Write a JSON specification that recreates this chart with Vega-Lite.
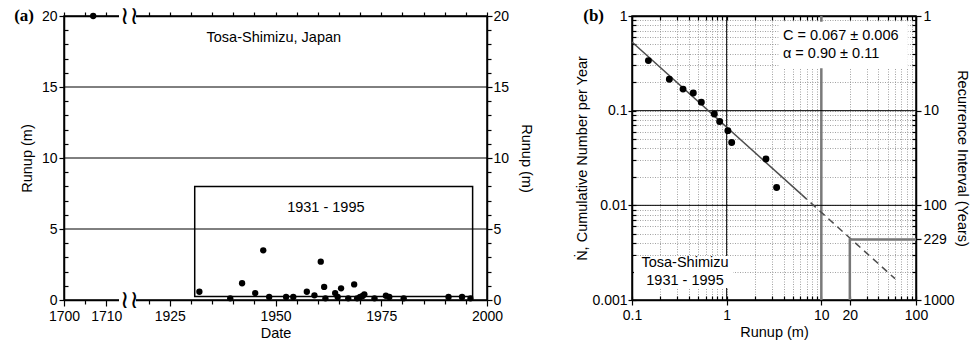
{
  "$schema": "https://vega.github.io/schema/vega-lite/v6.json",
  "padding": {"left": 13, "top": 3, "right": 0, "bottom": 0},
  "spacing": 145,
  "bounds": "flush",
  "config": {
    "font": "Liberation Sans",
    "view": {"stroke": "black", "strokeWidth": 1.5},
    "axis": {
      "labelFont": "Liberation Sans", "titleFont": "Liberation Sans",
      "labelFontSize": 14, "titleFontSize": 14.5, "titleFontWeight": "normal",
      "labelColor": "black", "titleColor": "black", "domainColor": "black", "tickColor": "black",
      "domainWidth": 1.5, "tickWidth": 1.2, "grid": false, "labelOverlap": false, "labelFlush": false
    }
  },
  "datasets": {
    "runupA": [
      {"yr": 1706.9, "v": 20}, {"yr": 1932.0, "v": 0.58}, {"yr": 1939.3, "v": 0.12}, {"yr": 1942.1, "v": 1.18},
      {"yr": 1945.2, "v": 0.49}, {"yr": 1947.1, "v": 3.5}, {"yr": 1948.5, "v": 0.21}, {"yr": 1952.5, "v": 0.21},
      {"yr": 1954.2, "v": 0.21}, {"yr": 1957.4, "v": 0.58}, {"yr": 1959.2, "v": 0.33}, {"yr": 1960.7, "v": 2.7},
      {"yr": 1961.5, "v": 0.92}, {"yr": 1961.8, "v": 0.12}, {"yr": 1964.1, "v": 0.49}, {"yr": 1964.7, "v": 0.21},
      {"yr": 1965.5, "v": 0.82}, {"yr": 1967.2, "v": 0.12}, {"yr": 1968.6, "v": 1.1}, {"yr": 1969.3, "v": 0.12},
      {"yr": 1970.0, "v": 0.21}, {"yr": 1970.6, "v": 0.28}, {"yr": 1971.0, "v": 0.4}, {"yr": 1973.4, "v": 0.12},
      {"yr": 1976.1, "v": 0.3}, {"yr": 1976.9, "v": 0.21}, {"yr": 1980.3, "v": 0.12}, {"yr": 1990.9, "v": 0.21},
      {"yr": 1994.1, "v": 0.21}, {"yr": 1996.1, "v": 0.12}
    ],
    "gridA": [{"g": 5}, {"g": 10}, {"g": 15}],
    "boxA": [{"x1": 1930.9, "x2": 1996.6, "y1": 0.25, "y2": 8}],
    "breakA": [
      {"x1": 1713.0, "x2": 1917.0, "xb": 1715, "lo": -0.45, "hi": 0.45, "yc": 0},
      {"x1": 1713.0, "x2": 1917.0, "xb": 1715, "lo": 19.55, "hi": 20.45, "yc": 20}
    ],
    "notesA": [{"yr": 1949.6, "v": 18.45, "t": "Tosa-Shimizu, Japan"}, {"yr": 1961.9, "v": 6.48, "t": "1931 - 1995"}],
    "panelA": [{"yr": 1700, "v": 20, "t": "(a)"}],
    "pointsB": [
      {"r": 0.149, "n": 0.338}, {"r": 0.248, "n": 0.215}, {"r": 0.346, "n": 0.169}, {"r": 0.444, "n": 0.154},
      {"r": 0.54, "n": 0.123}, {"r": 0.74, "n": 0.0923}, {"r": 0.843, "n": 0.0769}, {"r": 1.03, "n": 0.0615},
      {"r": 1.13, "n": 0.0462}, {"r": 2.6, "n": 0.0308}, {"r": 3.37, "n": 0.0154}
    ],
    "fitSolid": [{"r": 0.1, "n": 0.532}, {"r": 6.2, "n": 0.01297}],
    "fitDash": [{"r": 6.2, "n": 0.01297}, {"r": 60, "n": 0.00168}],
    "recur": [{"r": 20, "n": 0.001, "o": 1}, {"r": 20, "n": 0.0043668, "o": 2}, {"r": 100, "n": 0.0043668, "o": 3}],
    "vBlack": [{"r": 1}],
    "vGray": [{"r": 10}],
    "hBlack": [{"n": 0.1}, {"n": 0.01}],
    "boxesB": [{"r1": 3.55, "r2": 82, "n1": 0.28, "n2": 0.87}, {"r1": 0.105, "r2": 1.17, "n1": 0.00134, "n2": 0.00292}],
    "fitText": [{"r": 3.93, "n": 0.615, "t": "C = 0.067  ± 0.006"}, {"r": 3.93, "n": 0.397, "t": "α = 0.90  ± 0.11"}],
    "siteText": [{"r": 0.363, "n": 0.00247, "t": "Tosa-Shimizu"}, {"r": 0.363, "n": 0.00159, "t": "1931 - 1995"}],
    "panelB": [{"r": 0.1, "n": 1, "t": "(b)"}]
  },
  "hconcat": [
    {
      "width": 423, "height": 284,
      "layer": [
        {"data": {"name": "gridA"}, "mark": {"type": "rule", "color": "black", "strokeWidth": 1},
         "encoding": {"y": {"field": "g", "type": "quantitative", "scale": {"domain": [0, 20], "nice": false, "zero": false}, "axis": null}}},
        {"data": {"name": "boxA"}, "mark": {"type": "rect", "fillOpacity": 0, "stroke": "black", "strokeWidth": 1.5},
         "encoding": {
           "x": {"field": "x1", "type": "quantitative", "scale": {"domain": [1700, 1715, 1915, 2000], "range": [0, 63.45, 63.46, 423], "nice": false, "zero": false}, "axis": null},
           "x2": {"field": "x2"},
           "y": {"field": "y1", "type": "quantitative", "axis": null}, "y2": {"field": "y2"}}},
        {"data": {"name": "breakA"}, "mark": {"type": "rect", "fill": "white", "strokeWidth": 0},
         "encoding": {"x": {"field": "x1", "type": "quantitative", "axis": null}, "x2": {"field": "x2"},
                      "y": {"field": "lo", "type": "quantitative", "axis": null}, "y2": {"field": "hi"}}},
        {"data": {"name": "breakA"}, "mark": {"type": "text", "text": "≀≀", "font": "DejaVu Sans", "fontSize": 25, "baseline": "middle", "align": "center", "dx": 2},
         "encoding": {"x": {"field": "xb", "type": "quantitative", "axis": null}, "y": {"field": "yc", "type": "quantitative", "axis": null}}},
        {"data": {"name": "notesA"}, "mark": {"type": "text", "fontSize": 14.5, "baseline": "middle"},
         "encoding": {"x": {"field": "yr", "type": "quantitative", "axis": null}, "y": {"field": "v", "type": "quantitative", "axis": null}, "text": {"field": "t"}}},
        {"data": {"name": "panelA"}, "mark": {"type": "text", "font": "Liberation Serif", "fontWeight": "bold", "fontSize": 17, "align": "right", "baseline": "middle", "dx": -30},
         "encoding": {"x": {"field": "yr", "type": "quantitative", "axis": null}, "y": {"field": "v", "type": "quantitative", "axis": null}, "text": {"field": "t"}}},
        {"data": {"name": "runupA"}, "mark": {"type": "circle", "size": 40, "color": "black", "opacity": 1},
         "encoding": {
           "x": {"field": "yr", "type": "quantitative", "axis": {"orient": "bottom", "values": [1700, 1710, 1925, 1950, 1975, 2000], "format": "d", "tickSize": 6, "labelPadding": 3, "title": "Date", "titlePadding": 3}},
           "y": {"field": "v", "type": "quantitative", "axis": {"orient": "left", "values": [0, 5, 10, 15, 20], "format": "d", "tickSize": 5, "labelPadding": 2, "title": "Runup (m)", "titlePadding": 7}}}},
        {"data": {"name": "runupA"}, "mark": {"type": "point", "opacity": 0},
         "encoding": {
           "x": {"field": "yr", "type": "quantitative", "axis": {"orient": "bottom", "values": [1705, 1920, 1930, 1935, 1940, 1945, 1955, 1960, 1965, 1970, 1980, 1985, 1990, 1995], "tickSize": 4, "labels": false, "domain": false, "title": null}},
           "y": {"field": "v", "type": "quantitative", "axis": {"orient": "left", "values": [1, 2, 3, 4, 6, 7, 8, 9, 11, 12, 13, 14, 16, 17, 18, 19], "tickSize": -4, "labels": false, "domain": false, "title": null}}}},
        {"data": {"name": "runupA"}, "mark": {"type": "point", "opacity": 0},
         "encoding": {
           "x": {"field": "yr", "type": "quantitative", "axis": {"orient": "top", "values": [1700, 1705, 1710, 1920, 1925, 1930, 1935, 1940, 1945, 1950, 1955, 1960, 1965, 1970, 1975, 1980, 1985, 1990, 1995, 2000], "tickSize": 4, "labels": false, "title": null}},
           "y": {"field": "v", "type": "quantitative", "axis": {"orient": "right", "values": [0, 5, 10, 15, 20], "format": "d", "tickSize": 5, "labelPadding": 1, "title": "Runup (m)", "titlePadding": 10}}}},
        {"data": {"name": "runupA"}, "mark": {"type": "point", "opacity": 0},
         "encoding": {
           "x": {"field": "yr", "type": "quantitative", "axis": null},
           "y": {"field": "v", "type": "quantitative", "axis": {"orient": "right", "values": [1, 2, 3, 4, 6, 7, 8, 9, 11, 12, 13, 14, 16, 17, 18, 19], "tickSize": 4, "labels": false, "domain": false, "title": null}}}}
      ],
      "resolve": {"axis": {"x": "independent", "y": "independent"}}
    },
    {
      "width": 284, "height": 284,
      "layer": [
        {"data": {"name": "vBlack"}, "mark": {"type": "rule", "color": "black", "strokeWidth": 1},
         "encoding": {"x": {"field": "r", "type": "quantitative", "scale": {"type": "log", "domain": [0.1, 100], "nice": false}, "axis": null}}},
        {"data": {"name": "vGray"}, "mark": {"type": "rule", "color": "#7a7a7a", "strokeWidth": 2.5},
         "encoding": {"x": {"field": "r", "type": "quantitative", "axis": null}}},
        {"data": {"name": "hBlack"}, "mark": {"type": "rule", "color": "black", "strokeWidth": 1},
         "encoding": {"y": {"field": "n", "type": "quantitative", "scale": {"type": "log", "domain": [0.001, 1], "nice": false}, "axis": null}}},
        {"data": {"name": "fitSolid"}, "mark": {"type": "line", "color": "#4d4d4d", "strokeWidth": 1.5},
         "encoding": {"x": {"field": "r", "type": "quantitative", "axis": null}, "y": {"field": "n", "type": "quantitative", "axis": null}}},
        {"data": {"name": "fitDash"}, "mark": {"type": "line", "color": "#4d4d4d", "strokeWidth": 1.5, "strokeDash": [7, 5]},
         "encoding": {"x": {"field": "r", "type": "quantitative", "axis": null}, "y": {"field": "n", "type": "quantitative", "axis": null}}},
        {"data": {"name": "recur"}, "mark": {"type": "line", "color": "#777777", "strokeWidth": 2.5},
         "encoding": {"x": {"field": "r", "type": "quantitative", "axis": null}, "y": {"field": "n", "type": "quantitative", "axis": null}, "order": {"field": "o"}}},
        {"data": {"name": "boxesB"}, "mark": {"type": "rect", "fill": "white", "strokeWidth": 0},
         "encoding": {"x": {"field": "r1", "type": "quantitative", "axis": null}, "x2": {"field": "r2"},
                      "y": {"field": "n1", "type": "quantitative", "axis": null}, "y2": {"field": "n2"}}},
        {"data": {"name": "fitText"}, "mark": {"type": "text", "fontSize": 14.5, "align": "left", "baseline": "middle"},
         "encoding": {"x": {"field": "r", "type": "quantitative", "axis": null}, "y": {"field": "n", "type": "quantitative", "axis": null}, "text": {"field": "t"}}},
        {"data": {"name": "siteText"}, "mark": {"type": "text", "fontSize": 14.5, "align": "center", "baseline": "middle"},
         "encoding": {"x": {"field": "r", "type": "quantitative", "axis": null}, "y": {"field": "n", "type": "quantitative", "axis": null}, "text": {"field": "t"}}},
        {"data": {"name": "panelB"}, "mark": {"type": "text", "font": "Liberation Serif", "fontWeight": "bold", "fontSize": 17, "align": "right", "baseline": "middle", "dx": -28},
         "encoding": {"x": {"field": "r", "type": "quantitative", "axis": null}, "y": {"field": "n", "type": "quantitative", "axis": null}, "text": {"field": "t"}}},
        {"data": {"name": "pointsB"}, "mark": {"type": "circle", "size": 48, "color": "black", "opacity": 1},
         "encoding": {
           "x": {"field": "r", "type": "quantitative", "axis": {"orient": "bottom", "values": [0.1, 1, 10, 20, 100], "format": "~g", "tickSize": 5, "labelPadding": 3, "title": "Runup (m)", "titlePadding": 3}},
           "y": {"field": "n", "type": "quantitative", "axis": {"orient": "left", "values": [0.001, 0.01, 0.1, 1], "format": "~g", "tickSize": 4, "labelPadding": 1, "title": "Ṅ, Cumulative Number per Year", "titlePadding": 2}}}},
        {"data": {"name": "pointsB"}, "mark": {"type": "point", "opacity": 0},
         "encoding": {
           "x": {"field": "r", "type": "quantitative", "axis": {"orient": "bottom", "values": [0.1, 0.2, 0.3, 0.4, 0.5, 0.6, 0.7, 0.8, 0.9, 1, 2, 3, 4, 5, 6, 7, 8, 9, 10, 20, 30, 40, 50, 60, 70, 80, 90, 100], "grid": true, "gridColor": "#8a8a8a", "gridDash": [1, 1.5], "gridWidth": 0.8, "tickSize": -4, "labels": false, "domain": false, "title": null}},
           "y": {"field": "n", "type": "quantitative", "axis": {"orient": "left", "values": [0.001, 0.002, 0.003, 0.004, 0.005, 0.006, 0.007, 0.008, 0.009, 0.01, 0.02, 0.03, 0.04, 0.05, 0.06, 0.07, 0.08, 0.09, 0.1, 0.2, 0.3, 0.4, 0.5, 0.6, 0.7, 0.8, 0.9, 1], "grid": true, "gridColor": "#8a8a8a", "gridDash": [1, 1.5], "gridWidth": 0.8, "tickSize": -4, "labels": false, "domain": false, "title": null}}}},
        {"data": {"name": "pointsB"}, "mark": {"type": "point", "opacity": 0},
         "encoding": {
           "x": {"field": "r", "type": "quantitative", "axis": {"orient": "top", "values": [0.1, 0.2, 0.3, 0.4, 0.5, 0.6, 0.7, 0.8, 0.9, 1, 2, 3, 4, 5, 6, 7, 8, 9, 10, 20, 30, 40, 50, 60, 70, 80, 90, 100], "tickSize": -4, "labels": false, "title": null}},
           "y": {"field": "n", "type": "quantitative", "axis": {"orient": "right", "values": [1, 0.1, 0.01, 0.001, 0.0043668], "labelExpr": "format(1/datum.value, 'd')", "tickSize": 5, "labelPadding": 2, "title": "Recurrence Interval (Years)", "titlePadding": 0}}}},
        {"data": {"name": "pointsB"}, "mark": {"type": "point", "opacity": 0},
         "encoding": {
           "x": {"field": "r", "type": "quantitative", "axis": null},
           "y": {"field": "n", "type": "quantitative", "axis": {"orient": "right", "values": [0.002, 0.003, 0.004, 0.005, 0.006, 0.007, 0.008, 0.009, 0.02, 0.03, 0.04, 0.05, 0.06, 0.07, 0.08, 0.09, 0.2, 0.3, 0.4, 0.5, 0.6, 0.7, 0.8, 0.9], "tickSize": -4, "labels": false, "domain": false, "title": null}}}}
      ],
      "resolve": {"axis": {"x": "independent", "y": "independent"}}
    }
  ]
}
